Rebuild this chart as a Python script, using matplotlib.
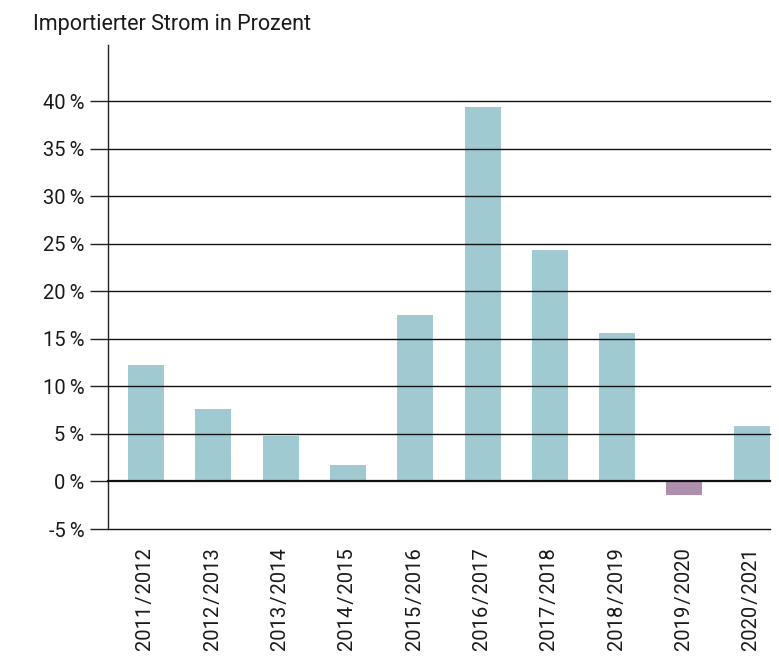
import numpy as np
import matplotlib
matplotlib.use("Agg")
import matplotlib.pyplot as plt

years = ["2011/2012", "2012/2013", "2013/2014", "2014/2015", "2015/2016",
         "2016/2017", "2017/2018", "2018/2019", "2019/2020", "2020/2021"]
values = [12.3, 7.6, 4.8, 1.7, 17.5, 39.4, 24.3, 15.6, -1.4, 5.8]
yticks = [-5, 0, 5, 10, 15, 20, 25, 30, 35, 40]

pos_color = "#a0cad1"
neg_color = "#b08fae"

plt.rcParams['font.family'] = ['Roboto', 'DejaVu Sans']

fig = plt.figure(figsize=(7.79, 6.58), dpi=100)
ax = fig.add_axes([0.1386, 0.196, 0.8498, 0.7356])

x = np.arange(len(years))
colors = [pos_color if v >= 0 else neg_color for v in values]
ax.bar(x, values, width=0.535, color=colors, zorder=1)

ax.set_ylim(-5, 45.9)
ax.set_xlim(-0.565, 9.27)
ax.set_yticks(yticks)
ax.set_yticklabels([f"{t}\u2009%" for t in yticks], fontsize=14.5, color="#1a1a1a")
ax.set_xticks(x)
ax.set_xticklabels([y.replace("/", "\u200a/\u200a") for y in years],
                   rotation=90, fontsize=14.5, color="#1a1a1a")
ax.tick_params(axis="x", length=0, pad=14)
ax.tick_params(axis="y", length=13, width=1, color="#222222", pad=4)

for t in yticks:
    ax.axhline(t, color="#111111", lw=1.6 if t == 0 else 1.0, zorder=3, clip_on=False)

for s in ["top", "right", "bottom"]:
    ax.spines[s].set_visible(False)
ax.spines["left"].set_color("#222222")
ax.spines["left"].set_linewidth(1.0)

fig.text(33 / 779, 1 - 30 / 658, "Importierter Strom in Prozent", fontsize=15.5,
         color="#1a1a1a", va="baseline", ha="left")

fig.savefig("out.png", dpi=100)
